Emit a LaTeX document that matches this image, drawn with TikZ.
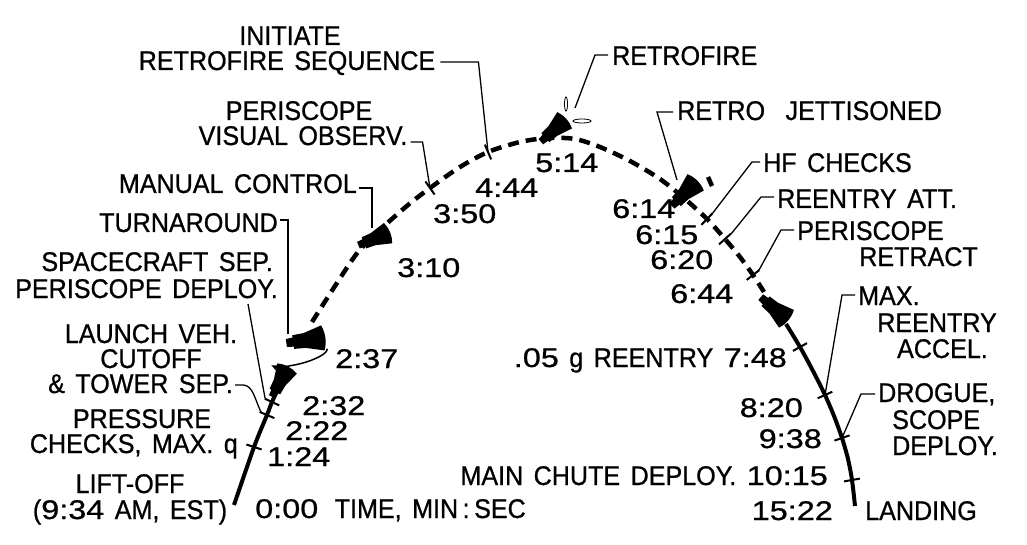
\documentclass[tikz,border=0pt]{standalone}
\usepackage{fontspec}
\setmainfont{Liberation Sans}[FakeStretch = 0.93, FakeBold = 0.8, WordSpace = 1.5]
\newfontfamily\timefont{Liberation Sans}[FakeStretch = 1.2, FakeBold = 0.8]
\usepackage{tikz}
\usetikzlibrary{arrows.meta}
\tikzset{
event text/.style = { inner sep = 0pt, font = \fontsize{27}{24}\selectfont },
time text/.style = { inner sep = 0pt, font = \timefont\fontsize{27}{24}\selectfont },
powered/.style = { line width = 4pt },
coast/.style = { line width = 4.5pt, dash pattern = on 11pt off 7pt },
leader/.style = { line width = 1.3pt },
turn arrow/.style = { line width = 1.5pt, -{Stealth[length = 8pt, width = 7pt]} },
}
\tikzset{
pics/capsule/.style args={#1, #2}{
        code = {
        \path[fill = black, rotate = #1, scale = #2] (13, -11) .. controls (16, -4) and (16, 4) .. (13, 11) -- (-3, 6.5) -- (-13, 6) -- (-13, 4) -- (-19, 3.5) -- (-19, -3.5) -- (-13, -4) -- (-13, -6) -- (-3, -6.5) -- cycle;
        }
    },
pics/tick/.style = {
        code = {
        \draw[line width = 2pt, rotate = #1] (-8, 0) -- (8, 0);
        }
    }
}

\begin{document}
\begin{tikzpicture}[x = 1pt, y = -1pt]
    \useasboundingbox (0, 0) rectangle (1027, 545);
    % marks on the flight path
    \coordinate (t124) at (254, 447);
    \coordinate (t222) at (267, 415);
    \coordinate (t232) at (272, 402);
    \coordinate (t350) at (430, 188);
    \coordinate (t444) at (488, 152);
    \coordinate (t615) at (707, 219);
    \coordinate (t620) at (725, 239);
    \coordinate (t644) at (753, 275);
    \coordinate (t748) at (800, 347);
    \coordinate (t820) at (825, 395);
    \coordinate (t938) at (842, 438);
    \coordinate (t1015) at (852, 480);
    \coordinate (m310) at (372, 228);
    \coordinate (mturn) at (288, 334);
    \coordinate (e232) at (265, 398);
    \coordinate (e222) at (261, 412);
    \coordinate (m514) at (575, 108);
    \coordinate (m614) at (677, 180);
    \coordinate (e615) at (712, 214);
    \coordinate (e620) at (731, 234);
    \coordinate (e644) at (759, 270);

    % flight path
    \draw[powered] plot[smooth] coordinates {(234, 505) (254, 447) (267, 415) (272, 402) (281, 382)};
    \draw[coast] plot[smooth] coordinates {(312, 322) (335, 286) (358, 252) (382, 228) (408, 205) (430, 188) (460, 167) (488, 152) (520, 142) (548, 138) (575, 139) (600, 147) (630, 161) (660, 179) (685, 199) (707, 219) (725, 239) (740, 257) (753, 275) (764, 292)};
    \draw[powered] plot[smooth] coordinates {(786, 324) (800, 347) (813, 371) (825, 395) (834, 416) (842, 438) (848, 459) (852, 480) (855, 506)};

    % spacecraft
    \draw (281, 380) pic{capsule = {62, 1}};
    \draw (308, 340) pic{capsule = {8, 1.15}};
    \draw (376, 238) pic{capsule = {22, 1}};
    \draw (555, 129) pic{capsule = {42, 1}};
    \draw (686, 192) pic{capsule = {45, 1.05}};
    \draw (776, 310) pic{capsule = {-40, 1.05}};
    \draw[turn arrow, rotate around = {14:(298, 356)}] (328, 356) arc[start angle = 0, end angle = 160, x radius = 30, y radius = 8];
    \draw[line width = 0.8pt] (566, 104) ellipse [x radius = 1.5, y radius = 7];
    \draw[line width = 0.8pt] (582, 121) ellipse [x radius = 9, y radius = 2];
    \draw[line width = 4.5pt] (708, 177) -- (712, 186);

    \draw (t124) pic{tick = -18};
    \draw (t222) pic{tick = -23};
    \draw (t232) pic{tick = -25};
    \draw (t350) pic{tick = -55};
    \draw (t444) pic{tick = -67};
    \draw (t615) pic{tick = 46};
    \draw (t620) pic{tick = 42};
    \draw (t644) pic{tick = 38};
    \draw (t748) pic{tick = 29};
    \draw (t820) pic{tick = 24};
    \draw (t938) pic{tick = 19};
    \draw (t1015) pic{tick = 10};

    % events, left side
    \node[event text, anchor = base] (initiate) at (290, 45) {INITIATE};
    \node[event text, anchor = base] (seq) at (287, 70) {RETROFIRE SEQUENCE};
    \node[event text, anchor = base] (perobs) at (299, 120) {PERISCOPE};
    \node[event text, anchor = base] (vis) at (303, 145) {VISUAL OBSERV.};
    \node[event text, anchor = base east] (manual) at (357, 193) {MANUAL CONTROL};
    \node[event text, anchor = base east] (turn) at (278, 232) {TURNAROUND};
    \node[event text, anchor = base east] (scsep) at (273, 271) {SPACECRAFT SEP.};
    \node[event text, anchor = base east] (perdep) at (278, 298) {PERISCOPE DEPLOY.};
    \node[event text, anchor = base] (launch) at (151, 343) {LAUNCH VEH.};
    \node[event text, anchor = base] (cutoff) at (151, 368) {CUTOFF};
    \node[event text, anchor = base east] (tower) at (233, 393) {\& TOWER SEP.};
    \node[event text, anchor = base] (pressure) at (142, 428) {PRESSURE};
    \node[event text, anchor = base east] (maxq) at (238, 453) {CHECKS, MAX. q};
    \node[event text, anchor = base] (liftoff) at (130, 493) {LIFT-OFF};
    \node[event text, anchor = base] (est) at (130, 519) {({\timefont 9:34} AM, EST)};
    \node[event text, anchor = base west] (clock) at (255, 518) {{\timefont 0:00}\hspace{6pt} TIME, MIN\,:\,SEC};
    \node[time text, anchor = base west] (l237) at (335, 368) {2:37};
    \node[time text, anchor = base west] (l232) at (302, 415) {2:32};
    \node[time text, anchor = base west] (l222) at (285, 440) {2:22};
    \node[time text, anchor = base west] (l124) at (267, 466) {1:24};
    \node[time text, anchor = base west] (l310) at (397, 277) {3:10};
    \node[time text, anchor = base west] (l350) at (433, 223) {3:50};
    \node[time text, anchor = base west] (l444) at (475, 197) {4:44};
    \node[time text, anchor = base west] (l514) at (535, 172) {5:14};

    % events, right side
    \node[event text, anchor = base west] (retro) at (612, 65) {RETROFIRE};
    \node[event text, anchor = base west] (jett) at (677, 120) {RETRO\hspace{10pt} JETTISONED};
    \node[event text, anchor = base west] (hf) at (763, 172) {HF CHECKS};
    \node[event text, anchor = base west] (att) at (777, 208) {REENTRY ATT.};
    \node[event text, anchor = base west] (perret) at (797, 240) {PERISCOPE};
    \node[event text, anchor = base east] (retract) at (978, 266) {RETRACT};
    \node[time text, anchor = base west] (l614) at (612, 218) {6:14};
    \node[time text, anchor = base west] (l615) at (635, 244) {6:15};
    \node[time text, anchor = base west] (l620) at (650, 269) {6:20};
    \node[time text, anchor = base west] (l644) at (670, 303) {6:44};
    \node[event text, anchor = base west] (max) at (858, 305) {MAX.};
    \node[event text, anchor = base east] (reentry) at (997, 332) {REENTRY};
    \node[event text, anchor = base east] (accel) at (988, 358) {ACCEL.};
    \node[event text, anchor = base east] (g05) at (787, 367) {{\timefont .05} g REENTRY {\timefont 7:48}};
    \node[time text, anchor = base east] (l820) at (803, 417) {8:20};
    \node[event text, anchor = base west] (drogue) at (878, 402) {DROGUE,};
    \node[event text, anchor = base west] (scope) at (892, 429) {SCOPE};
    \node[event text, anchor = base west] (deploy) at (892, 455) {DEPLOY.};
    \node[time text, anchor = base east] (l938) at (822, 448) {9:38};
    \node[event text, anchor = base east] (chute) at (828, 485) {MAIN CHUTE DEPLOY. {\timefont 10:15}};
    \node[time text, anchor = base east] (l1522) at (833, 520) {15:22};
    \node[event text, anchor = base west] (landing) at (865, 520) {LANDING};

    % leaders
    \draw[leader] ([xshift = 5pt, yshift = 8pt]seq.base east) -- ++(38, 0) -- (t444);
    \draw[leader] ([xshift = 3pt, yshift = 3pt]vis.base east) -- ++(12, 0) -- (t350);
    \draw[leader] ([xshift = 2pt, yshift = 5pt]manual.base east) -| (m310);
    \draw[leader] ([xshift = 2pt, yshift = 12pt]turn.base east) -| (mturn);
    \draw[leader] ([xshift = -30pt, yshift = -6pt]perdep.base east) -- (e232);
    \draw[leader] ([xshift = 2pt, yshift = 8pt]tower.base east) -- ++(8, 0) .. controls +(10, 0) and +(-6, -12) .. (e222);
    \draw[leader] ([xshift = -4pt, yshift = 10pt]retro.base west) -- ++(-13, 0) -- (m514);
    \draw[leader] ([xshift = -4pt, yshift = 8pt]jett.base west) -- ++(-16, 0) -- (m614);
    \draw[leader] ([xshift = -3pt, yshift = 10pt]hf.base west) -- ++(-8, 0) -- (e615);
    \draw[leader] ([xshift = -3pt, yshift = 11pt]att.base west) -- ++(-13, 0) -- (e620);
    \draw[leader] ([xshift = -3pt, yshift = 10pt]perret.base west) -- ++(-13, 0) -- (e644);
    \draw[leader] ([xshift = -3pt, yshift = 10pt]max.base west) -- ++(-13, 0) -- (t820);
    \draw[leader] ([xshift = -3pt, yshift = 8pt]drogue.base west) -- ++(-14, 0) -- (t938);
  \end{tikzpicture}
\end{document}
